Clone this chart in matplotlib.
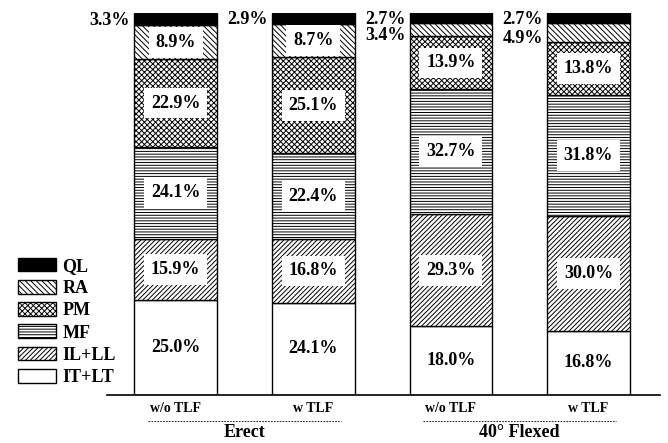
import numpy as np
import matplotlib.pyplot as plt
from matplotlib.patches import Patch
from matplotlib.lines import Line2D

plt.rcParams['font.family'] = ['Liberation Serif', 'DejaVu Serif']
plt.rcParams['font.weight'] = 'bold'
plt.rcParams['hatch.linewidth'] = 0.7

conditions = ["w/o TLF", "w TLF", "w/o TLF", "w TLF"]
groups = ["Erect", "40\u00b0 Flexed"]
muscles = ["IT+LT", "IL+LL", "MF", "PM", "RA", "QL"]

# percentage share of each muscle group, bottom to top
it_lt = [25.0, 24.1, 18.0, 16.8]
il_ll = [15.9, 16.8, 29.3, 30.0]
mf = [24.1, 22.4, 32.7, 31.8]
pm = [22.9, 25.1, 13.9, 13.8]
ra = [8.9, 8.7, 3.4, 4.9]
ql = [3.3, 2.9, 2.7, 2.7]

series = [it_lt, il_ll, mf, pm, ra, ql]
hatches = ["", "///////", "------", "xxxxxx", "\\\\\\\\\\\\", ""]
fills = ["white", "white", "white", "white", "white", "black"]

fig = plt.figure(figsize=(6.68, 4.43), dpi=100)
ax = fig.add_axes([0.160, 0.1084, 0.828, 0.862])

x = np.arange(len(conditions))
width = 0.6
bottom = np.zeros(len(conditions))
for vals, h, fc, name in zip(series, hatches, fills, muscles):
    vals = np.array(vals)
    ax.bar(x, vals, width, bottom=bottom, color=fc, edgecolor="black",
           hatch=h, linewidth=1.0, label=name)
    for i, v in enumerate(vals):
        mid = bottom[i] + v / 2
        if v >= 8:
            ax.text(x[i], mid, f"{v:.1f}%", ha="center", va="center",
                    fontsize=13, fontweight="bold",
                    bbox=dict(facecolor="white", edgecolor="none", pad=5))
    bottom += vals

# small segments labelled beside the bar
for i in range(len(conditions)):
    top = 100
    ax.text(x[i] - width / 2 - 0.03, top - ql[i] / 2 - 0.3, f"{ql[i]:.1f}%",
            ha="right", va="center", fontsize=13, fontweight="bold")
    if ra[i] < 8:
        ax.text(x[i] - width / 2 - 0.03, top - ql[i] - ra[i] / 2 - 1.5,
                f"{ra[i]:.1f}%", ha="right", va="center", fontsize=13,
                fontweight="bold")

ax.set_xlim(-0.5, 3.52)
ax.set_ylim(0, 100)
for s in ["top", "right", "left"]:
    ax.spines[s].set_visible(False)
ax.spines["bottom"].set_linewidth(1.2)
ax.set_yticks([])
ax.set_xticks(x)
ax.set_xticklabels(conditions, fontsize=10, fontweight="bold")
ax.tick_params(axis="x", length=0, pad=5)

# dashed group underlines and group names
for g, name in enumerate(groups):
    x0, x1 = 2 * g - 0.2, 2 * g + 1.2
    ax.add_line(Line2D([x0, x1], [-6.9, -6.9], color="black", lw=0.6,
                       ls=(0, (2, 1.5)), clip_on=False))
    ax.text(2 * g + 0.5, -9.9, name, ha="center", va="center",
            fontsize=13, fontweight="bold", clip_on=False)

handles = [Patch(facecolor=fc, edgecolor="black", hatch=h, label=name)
           for h, fc, name in zip(hatches, fills, muscles)][::-1]
fig.legend(handles=handles, loc="upper left", bbox_to_anchor=(0.003, 0.455),
           frameon=False, handlelength=2.1, handleheight=0.8,
           labelspacing=0.28, handletextpad=0.35,
           prop={"size": 13, "weight": "bold"})

fig.savefig("out.png", dpi=100)
